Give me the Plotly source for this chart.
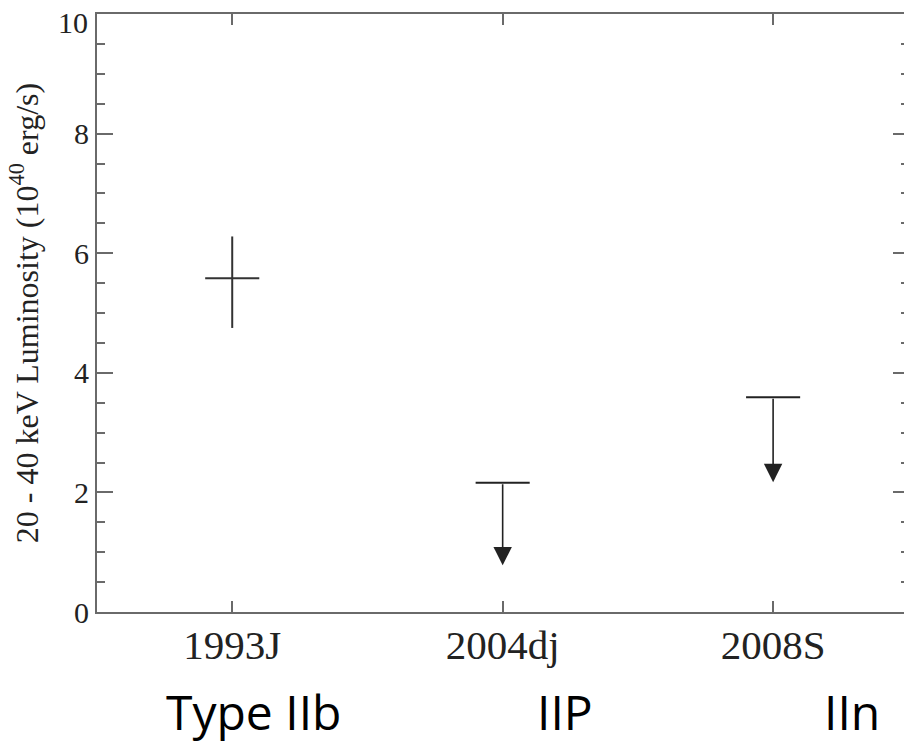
import plotly.graph_objects as go

# ---- data ----
sn_names = ["1993J", "2004dj", "2008S"]
sn_types = ["Type IIb", "IIP", "IIn"]

# detection (1993J)
det_name = ["1993J"]
det_lum = [5.58]
det_err_plus = [0.70]
det_err_minus = [0.83]

# upper limits (2004dj, 2008S)
ul_names = ["2004dj", "2008S"]
ul_lum = [2.16, 3.59]
ul_arrow_tip = [0.78, 2.17]

y_ticks = [0, 2, 4, 6, 8, 10]
x_half_width = 0.1  # horizontal bar half-width in category units

ink = "#222222"
axis_col = "#6a6a6a"
serif = "Liberation Serif, Times New Roman, serif"

x_pos = list(range(len(sn_names)))
det_x = [sn_names.index(n) for n in det_name]
ul_x = [sn_names.index(n) for n in ul_names]

# top tick label is drawn as an annotation (nudged inside the frame, like the reference)
y_ticktext = [str(v) for v in y_ticks[:-1]] + [""]
y_top_label = str(y_ticks[-1])

fig = go.Figure()

# detection with error bars
fig.add_trace(go.Scatter(
    x=det_x, y=det_lum, mode="markers",
    marker=dict(size=1, color=ink, opacity=0),
    error_y=dict(type="data", symmetric=False, array=det_err_plus,
                 arrayminus=det_err_minus, width=0, thickness=2, color="#333333"),
    error_x=dict(type="constant", value=x_half_width, width=0, thickness=2, color="#333333"),
    showlegend=False, hoverinfo="skip",
))

# upper limit horizontal bars
fig.add_trace(go.Scatter(
    x=ul_x, y=ul_lum, mode="markers",
    marker=dict(size=1, color=ink, opacity=0),
    error_x=dict(type="constant", value=x_half_width, width=0, thickness=2, color=ink),
    showlegend=False, hoverinfo="skip",
))

# empty traces so the right-hand and top tick axes are drawn
fig.add_trace(go.Scatter(x=[None], y=[None], yaxis="y2", showlegend=False, hoverinfo="skip"))
fig.add_trace(go.Scatter(x=[None], y=[None], xaxis="x2", showlegend=False, hoverinfo="skip"))

# arrows for upper limits
for xx, top, tip in zip(ul_x, ul_lum, ul_arrow_tip):
    fig.add_annotation(
        x=xx, y=tip, ax=xx, ay=top, xref="x", yref="y", axref="x", ayref="y",
        showarrow=True, arrowhead=2, arrowsize=2.3, arrowwidth=1.6,
        arrowcolor=ink, text="", standoff=0,
    )

# top y tick label
fig.add_annotation(
    x=0, y=y_ticks[-1], xref="paper", yref="y", text=y_top_label, showarrow=False,
    xanchor="right", yanchor="middle", xshift=-7, yshift=-8,
    font=dict(family=serif, size=30, color=ink),
)

# type labels below the axis
type_offsets = [0.08, 0.23, 0.29]
for xx, t, off in zip(x_pos, sn_types, type_offsets):
    fig.add_annotation(
        x=xx + off, y=-0.166, xref="x", yref="paper", text=t, showarrow=False,
        font=dict(family="Open Sans, sans-serif", size=48, color="#000000"),
        xanchor="center", yanchor="middle",
    )

fig.update_layout(
    template="none",
    width=904, height=751,
    margin=dict(l=97, r=0, t=14, b=139),
    paper_bgcolor="white", plot_bgcolor="white",
    showlegend=False,
    xaxis=dict(
        range=[-0.5, 2.484], automargin=False,
        tickmode="array", tickvals=x_pos, ticktext=sn_names,
        showline=True, linecolor=axis_col, linewidth=2, mirror=False,
        ticks="inside", ticklen=11, tickwidth=1.5, tickcolor=axis_col,
        showgrid=False, zeroline=False,
        tickfont=dict(family=serif, size=41, color=ink),
        ticklabelstandoff=-4, ticklabeloverflow="allow",
    ),
    xaxis2=dict(
        overlaying="x", side="top", anchor="y", matches="x",
        range=[-0.5, 2.484], automargin=False,
        tickmode="array", tickvals=x_pos,
        showline=True, linecolor=axis_col, linewidth=2,
        ticks="inside", ticklen=11, tickwidth=1.5, tickcolor=axis_col,
        showgrid=False, zeroline=False, showticklabels=False,
    ),
    yaxis=dict(
        range=[0, 10], automargin=False,
        tickmode="array", tickvals=y_ticks, ticktext=y_ticktext,
        showline=True, linecolor=axis_col, linewidth=2, mirror=False,
        ticks="inside", ticklen=16, tickwidth=2, tickcolor=axis_col,
        minor=dict(dtick=0.5, ticks="inside", ticklen=8, tickwidth=1.5, tickcolor=axis_col),
        showgrid=False, zeroline=False,
        tickfont=dict(family=serif, size=30, color=ink),
        ticklabeloverflow="allow",
        title=dict(text="20 - 40 keV Luminosity (10<sup>40</sup> erg/s)",
                   font=dict(family=serif, size=32, color=ink), standoff=26),
    ),
    yaxis2=dict(
        overlaying="y", side="right", anchor="x",
        range=[0, 10], tickmode="array", tickvals=y_ticks, automargin=False,
        showline=False, showgrid=False, zeroline=False, showticklabels=False,
        ticks="inside", ticklen=11, tickwidth=2, tickcolor=axis_col,
        minor=dict(dtick=0.5, ticks="inside", ticklen=3, tickwidth=1.5, tickcolor=axis_col),
    ),
)

fig.write_html("out.html")
